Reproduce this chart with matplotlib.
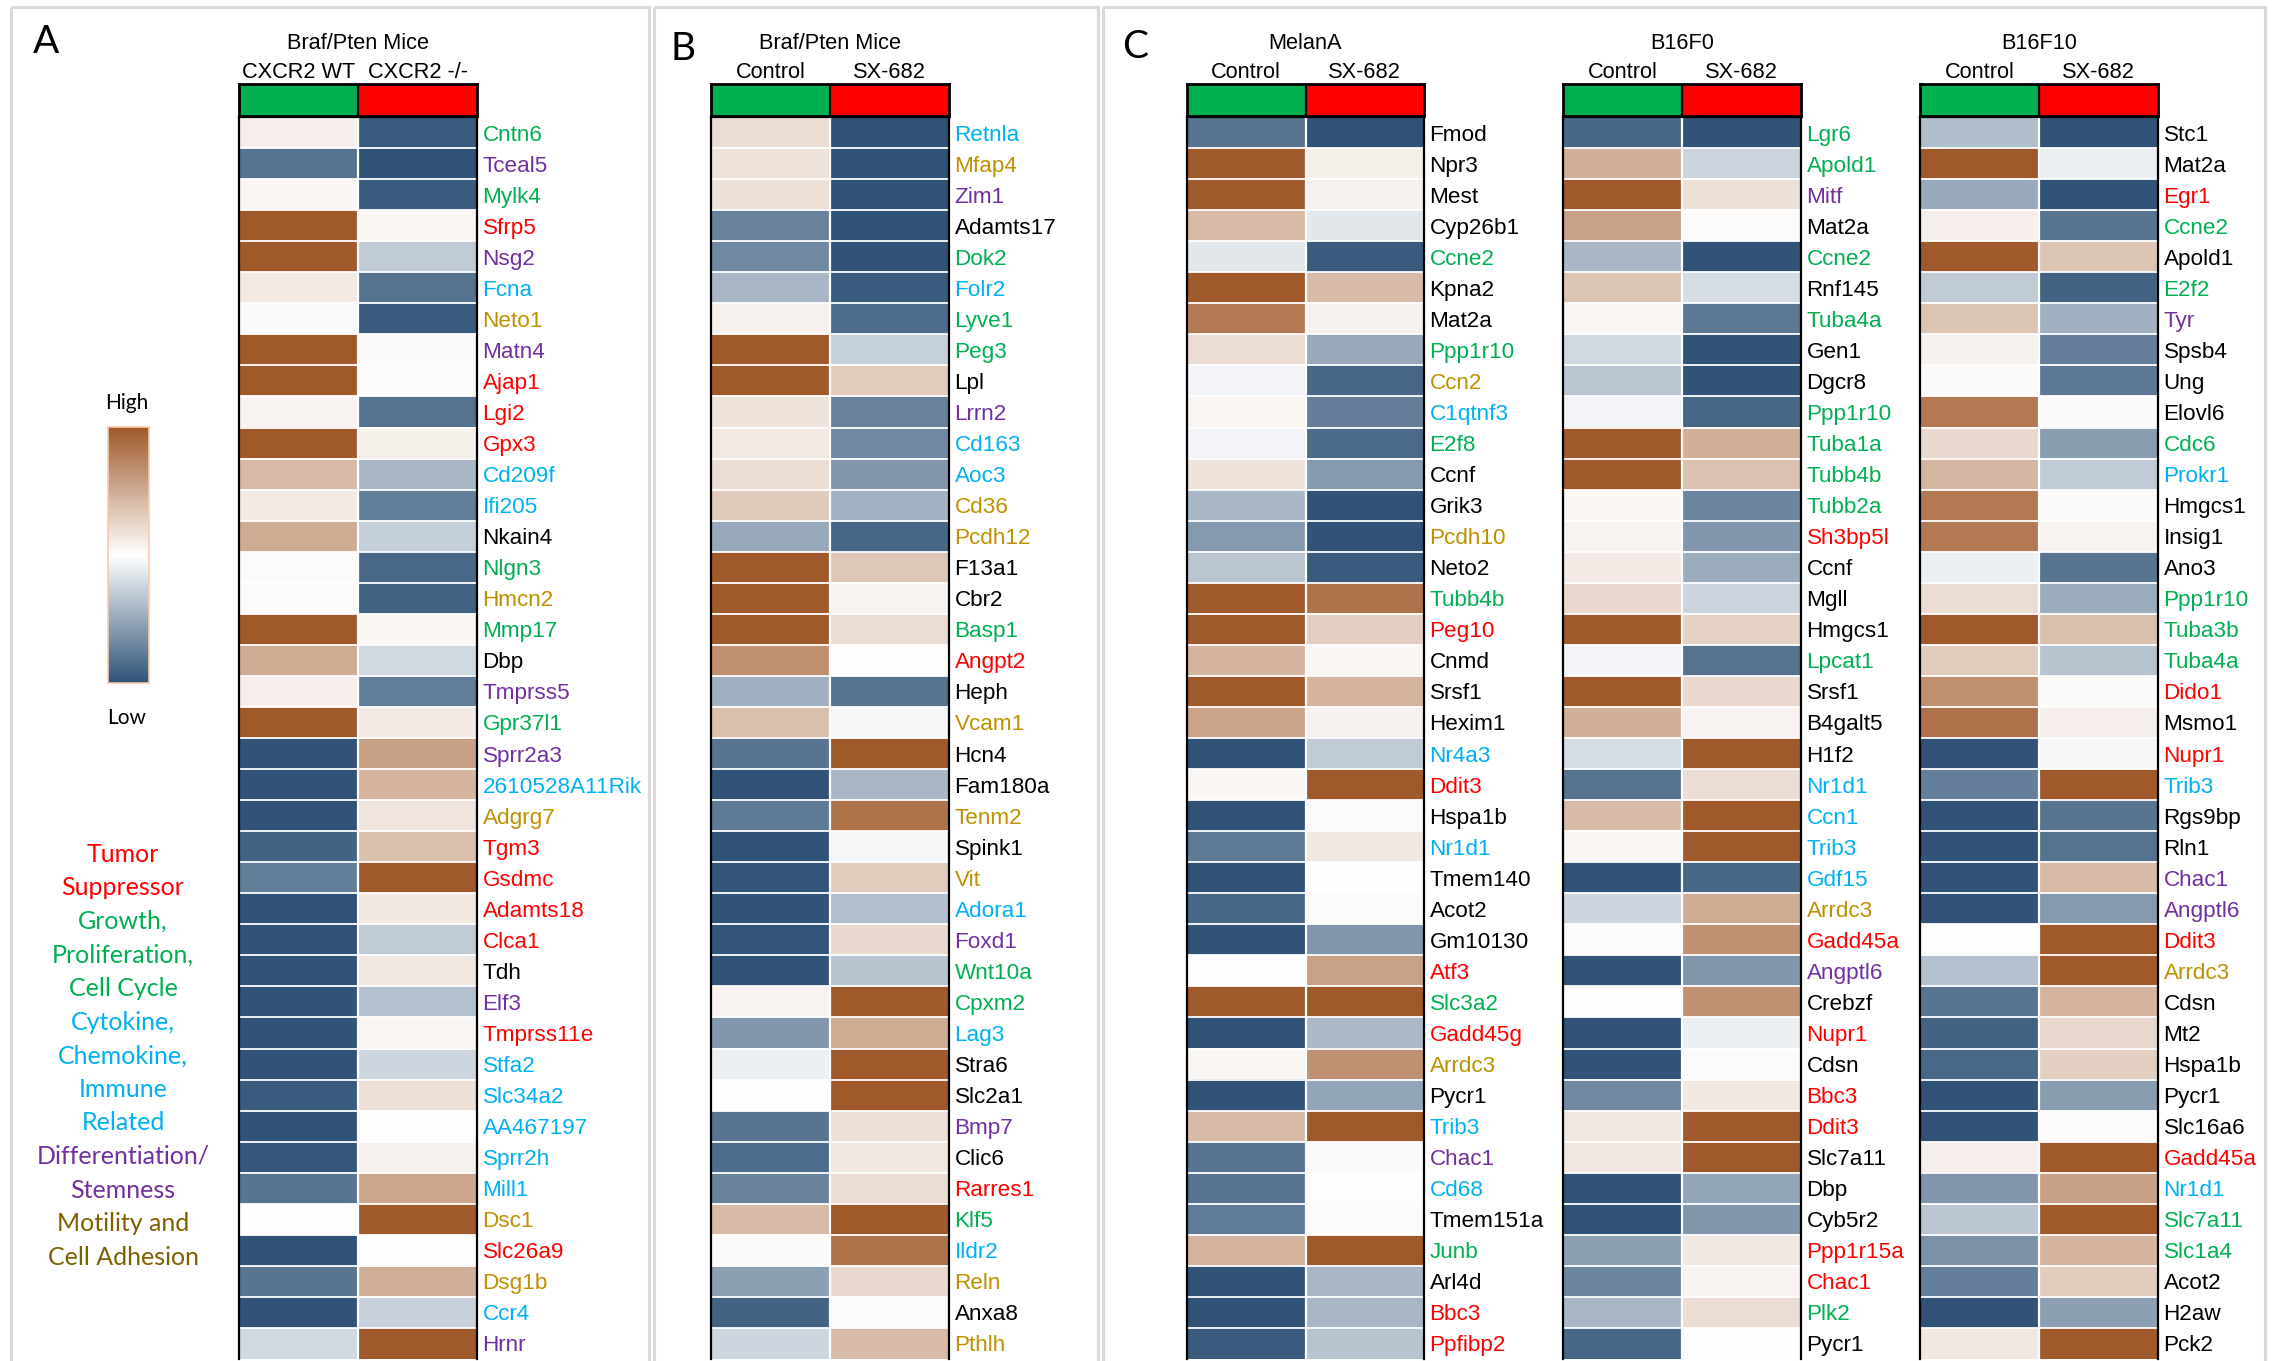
import numpy as np
import matplotlib
matplotlib.use('Agg')
import matplotlib.pyplot as plt
from matplotlib.colors import LinearSegmentedColormap, ListedColormap
from matplotlib.patches import Rectangle

plt.rcParams['font.family'] = ['Liberation Sans', 'DejaVu Sans']

# ---- gene lists, category codes and scaled expression (-1 low .. 1 high) ----
a_genes = ["Cntn6", "Tceal5", "Mylk4", "Sfrp5", "Nsg2", "Fcna", "Neto1", "Matn4", "Ajap1", "Lgi2",
           "Gpx3", "Cd209f", "Ifi205", "Nkain4", "Nlgn3", "Hmcn2", "Mmp17", "Dbp", "Tmprss5", "Gpr37l1",
           "Sprr2a3", "2610528A11Rik", "Adgrg7", "Tgm3", "Gsdmc", "Adamts18", "Clca1", "Tdh", "Elf3", "Tmprss11e",
           "Stfa2", "Slc34a2", "AA467197", "Sprr2h", "Mill1", "Dsc1", "Slc26a9", "Dsg1b", "Ccr4", "Hrnr"]
a_cats = "g p g r p c y p r r r c c k g y g k p g p c y r r r r k p r c c c c c y r y c p".split()
a_wt = [0.1, -0.82, 0.05, 1, 1, 0.13, -0.03, 1, 1, 0.07,
        1, 0.42, 0.12, 0.5, 0.02, 0.02, 1, 0.5, 0.1, 1,
        -1, -1, -1, -0.9, -0.75, -1, -1, -1, -1, -1,
        -1, -0.95, -1, -0.97, -0.8, 0, -1, -0.8, -1, -0.22]
a_ko = [-0.95, -1, -0.95, 0.05, -0.3, -0.82, -0.95, 0.03, 0.02, -0.82,
        0.09, -0.42, -0.75, -0.28, -0.87, -0.9, 0.05, -0.22, -0.75, 0.12,
        0.57, 0.45, 0.15, 0.38, 1, 0.14, -0.3, 0.14, -0.36, 0.06,
        -0.24, 0.18, 0.01, 0.08, 0.52, 1, 0, 0.47, -0.26, 1]

b_genes = ["Retnla", "Mfap4", "Zim1", "Adamts17", "Dok2", "Folr2", "Lyve1", "Peg3", "Lpl", "Lrrn2",
           "Cd163", "Aoc3", "Cd36", "Pcdh12", "F13a1", "Cbr2", "Basp1", "Angpt2", "Heph", "Vcam1",
           "Hcn4", "Fam180a", "Tenm2", "Spink1", "Vit", "Adora1", "Foxd1", "Wnt10a", "Cpxm2", "Lag3",
           "Stra6", "Slc2a1", "Bmp7", "Clic6", "Rarres1", "Klf5", "Ildr2", "Reln", "Anxa8", "Pthlh"]
b_cats = "c y p k g c g g k p c c y y k k g r k y k k y k y c p g g c k k p k r g c y k y".split()
b_ctrl = [0.2, 0.17, 0.18, -0.72, -0.68, -0.42, 0.08, 1, 1, 0.16,
          0.13, 0.2, 0.32, -0.5, 1, 1, 1, 0.67, -0.45, 0.38,
          -0.8, -1, -0.77, -1, -0.98, -1, -0.98, -1, 0.07, -0.6,
          -0.08, 0, -0.8, -0.85, -0.72, 0.4, 0.03, -0.55, -0.9, -0.24]
b_sx = [-1, -1, -1, -1, -1, -0.95, -0.85, -0.27, 0.3, -0.72,
        -0.68, -0.6, -0.44, -0.88, 0.33, 0.07, 0.2, 0.01, -0.8, -0.05,
        1, -0.42, 0.84, -0.04, 0.3, -0.37, 0.22, -0.34, 1, 0.5,
        1, 1, 0.18, 0.14, 0.2, 1, 0.84, 0.22, 0.02, 0.4]

melana_genes = ["Fmod", "Npr3", "Mest", "Cyp26b1", "Ccne2", "Kpna2", "Mat2a", "Ppp1r10", "Ccn2", "C1qtnf3",
                "E2f8", "Ccnf", "Grik3", "Pcdh10", "Neto2", "Tubb4b", "Peg10", "Cnmd", "Srsf1", "Hexim1",
                "Nr4a3", "Ddit3", "Hspa1b", "Nr1d1", "Tmem140", "Acot2", "Gm10130", "Atf3", "Slc3a2", "Gadd45g",
                "Arrdc3", "Pycr1", "Trib3", "Chac1", "Cd68", "Tmem151a", "Junb", "Arl4d", "Bbc3", "Ppfibp2"]
melana_cats = "k k k k g k k g y c g k k y k g r k k k c r k c k k k r g r y k c p c k g k r r".split()
melana_ctrl = [-0.8, 1, 1, 0.42, -0.14, 1, 0.8, 0.2, -0.06, 0.05,
               -0.06, 0.16, -0.42, -0.58, -0.33, 1, 1, 0.45, 1, 0.55,
               -1, 0.04, -1, -0.77, -1, -0.88, -1, 0, 1, -1,
               0.05, -1, 0.4, -0.8, -0.8, -0.76, 0.45, -1, -1, -0.95]
melana_sx = [-1, 0.09, 0.08, -0.14, -0.95, 0.4, 0.08, -0.5, -0.88, -0.74,
             -0.86, -0.58, -1, -1, -0.95, 0.84, 0.28, 0.05, 0.45, 0.08,
             -0.3, 1, -0.02, 0.14, 0, 0.02, -0.6, 0.56, 1, -0.4,
             0.65, -0.52, 1, 0.03, 0.01, 0.02, 1, -0.42, -0.42, -0.34]

f0_genes = ["Lgr6", "Apold1", "Mitf", "Mat2a", "Ccne2", "Rnf145", "Tuba4a", "Gen1", "Dgcr8", "Ppp1r10",
            "Tuba1a", "Tubb4b", "Tubb2a", "Sh3bp5l", "Ccnf", "Mgll", "Hmgcs1", "Lpcat1", "Srsf1", "B4galt5",
            "H1f2", "Nr1d1", "Ccn1", "Trib3", "Gdf15", "Arrdc3", "Gadd45a", "Angptl6", "Crebzf", "Nupr1",
            "Cdsn", "Bbc3", "Ddit3", "Slc7a11", "Dbp", "Cyb5r2", "Ppp1r15a", "Chac1", "Plk2", "Pycr1"]
f0_cats = "g g p k g k g k k g g g g r k k k g k k k c c c c y r p k r k r r k k k r r g k".split()
f0_ctrl = [-0.88, 0.48, 1, 0.56, -0.42, 0.35, 0.05, -0.22, -0.33, -0.06,
           1, 1, 0.04, 0.07, 0.12, 0.22, 1, -0.06, 1, 0.47,
           -0.2, -0.82, 0.4, 0.05, -1, -0.24, -0.01, -1, 0.01, -1,
           -1, -0.68, 0.14, 0.14, -1, -1, -0.55, -0.7, -0.42, -0.88]
f0_sx = [-1, -0.25, 0.18, 0.02, -1, -0.2, -0.78, -1, -1, -0.88,
         0.47, 0.37, -0.7, -0.6, -0.48, -0.25, 0.27, -0.82, 0.22, 0.07,
         1, 0.2, 1, 1, -0.88, 0.5, 0.65, -0.6, 0.65, -0.09,
         -0.02, 0.14, 1, 1, -0.52, -0.6, 0.14, 0.07, 0.2, 0]

f10_genes = ["Stc1", "Mat2a", "Egr1", "Ccne2", "Apold1", "E2f2", "Tyr", "Spsb4", "Ung", "Elovl6",
             "Cdc6", "Prokr1", "Hmgcs1", "Insig1", "Ano3", "Ppp1r10", "Tuba3b", "Tuba4a", "Dido1", "Msmo1",
             "Nupr1", "Trib3", "Rgs9bp", "Rln1", "Chac1", "Angptl6", "Ddit3", "Arrdc3", "Cdsn", "Mt2",
             "Hspa1b", "Pycr1", "Slc16a6", "Gadd45a", "Nr1d1", "Slc7a11", "Slc1a4", "Acot2", "H2aw", "Pck2"]
f10_cats = "k k r g k g p k k k g c k k k g g g r k r c k k p p r y k k k k k r c g g k k k".split()
f10_ctrl = [-0.38, 1, -0.5, 0.1, 1, -0.3, 0.35, 0.08, 0.03, 0.8,
            0.22, 0.43, 0.8, 0.8, -0.09, 0.2, 1, 0.3, 0.67, 0.85,
            -1, -0.74, -1, -1, -1, -1, 0.01, -0.36, -0.8, -0.9,
            -0.87, -1, -1, 0.1, -0.6, -0.33, -0.64, -0.74, -1, 0.14]
f10_sx = [-1, -0.09, -1, -0.8, 0.35, -0.9, -0.45, -0.74, -0.78, 0.03,
          -0.57, -0.3, 0.03, 0.07, -0.8, -0.48, 0.38, -0.34, 0.03, 0.1,
          -0.05, 1, -0.8, -0.82, 0.42, -0.58, 1, 1, 0.45, 0.24,
          0.28, -0.57, 0.02, 1, 0.57, 1, 0.45, 0.3, -0.55, 1]

legend_lines = [("Tumor", "r"), ("Suppressor", "r"), ("Growth,", "g"), ("Proliferation,", "g"),
                ("Cell Cycle", "g"), ("Cytokine,", "c"), ("Chemokine,", "c"), ("Immune", "c"),
                ("Related", "c"), ("Differentiation/", "p"), ("Stemness", "p"),
                ("Motility and", "m"), ("Cell Adhesion", "m")]

CAT_COLORS = {"r": "#FF0000", "g": "#00B050", "c": "#00B0F0", "p": "#7030A0",
              "y": "#BF9000", "m": "#7F6000", "k": "#000000"}

cmap = LinearSegmentedColormap.from_list("expr", ["#305377", "#FFFFFF", "#A0592A"])

W, H = 2278, 1361
fig = plt.figure(figsize=(W / 100, H / 100), dpi=100)
fig.patch.set_facecolor("white")

ROW_TOP, ROW_H, N_ROWS = 117, 31.05, 40


def px_axes(x0, y0, x1, y1):
    return fig.add_axes([x0 / W, 1 - y1 / H, (x1 - x0) / W, (y1 - y0) / H])


def ftext(x, y, s, **kw):
    fig.text(x / W, 1 - y / H, s, **kw)


# panel frames
bg = fig.add_axes([0, 0, 1, 1])
bg.set_xlim(0, W)
bg.set_ylim(H, 0)
bg.axis("off")
for x0, x1 in [(11, 649), (654, 1098), (1103, 2265)]:
    bg.add_patch(Rectangle((x0, 7), x1 - x0, 1400, fill=False, ec="#D9D9D9", lw=2.2))


def heatmap(left, right, title, cols, ctrl, trt, genes, cats):
    top, bottom = ROW_TOP, ROW_TOP + N_ROWS * ROW_H
    ax = px_axes(left, top, right, bottom)
    data = np.column_stack([ctrl, trt])
    ax.imshow(data, cmap=cmap, vmin=-1, vmax=1, aspect="auto",
              interpolation="nearest", extent=(0, 2, N_ROWS, 0))
    ax.hlines(np.arange(1, N_ROWS), 0, 2, color="white", lw=1.3)
    ax.vlines(1, 0, N_ROWS, color="white", lw=1.6)
    ax.set_xlim(0, 2)
    ax.set_ylim(N_ROWS, 0)
    ax.set_xticks([])
    ax.set_yticks(np.arange(N_ROWS) + 0.5)
    ax.set_yticklabels(genes, fontsize=16.2)
    ax.yaxis.tick_right()
    ax.tick_params(axis="y", length=0, pad=4)
    for lab, c in zip(ax.get_yticklabels(), cats):
        lab.set_color(CAT_COLORS[c])
    for side, sp in ax.spines.items():
        sp.set_linewidth(1.6)
        sp.set_visible(side != "bottom")

    # group header bar
    hx = px_axes(left, 84, right, 116)
    hx.imshow([[0, 1]], cmap=ListedColormap(["#00B050", "#FF0000"]), aspect="auto",
              extent=(0, 2, 1, 0))
    hx.vlines(1, 0, 1, color="black", lw=1.6)
    hx.set_xticks([])
    hx.set_yticks([])
    for sp in hx.spines.values():
        sp.set_linewidth(2)

    cw = (right - left) / 2
    ftext((left + right) / 2, 49, title, ha="center", va="baseline", fontsize=15.7)
    for i, c in enumerate(cols):
        ftext(left + cw * (i + 0.5), 78, c, ha="center", va="baseline", fontsize=15.7)


heatmap(239, 477, "Braf/Pten Mice", ["CXCR2 WT", "CXCR2 -/-"], a_wt, a_ko, a_genes, a_cats)
heatmap(711, 949, "Braf/Pten Mice", ["Control", "SX-682"], b_ctrl, b_sx, b_genes, b_cats)
heatmap(1187, 1424, "MelanA", ["Control", "SX-682"], melana_ctrl, melana_sx, melana_genes, melana_cats)
heatmap(1563, 1801, "B16F0", ["Control", "SX-682"], f0_ctrl, f0_sx, f0_genes, f0_cats)
heatmap(1920, 2158, "B16F10", ["Control", "SX-682"], f10_ctrl, f10_sx, f10_genes, f10_cats)

# panel letters
for letter, x, y in [("A", 46, 42), ("B", 683, 49), ("C", 1135, 47)]:
    ftext(x, y, letter, ha="center", va="center", fontsize=28, family=["Lato", "DejaVu Sans"])

# colour scale
cb = px_axes(108, 427, 149, 683)
cb.imshow(np.linspace(1, -1, 256)[:, None], cmap=cmap, vmin=-1, vmax=1, aspect="auto")
cb.set_xticks([])
cb.set_yticks([])
for sp in cb.spines.values():
    sp.set_edgecolor("#F8CBAD")
    sp.set_linewidth(1.2)
ftext(127, 403, "High", ha="center", va="center", fontsize=15, family=["Lato", "DejaVu Sans"])
ftext(127, 718, "Low", ha="center", va="center", fontsize=15, family=["Lato", "DejaVu Sans"])

# category key
for i, (line, c) in enumerate(legend_lines):
    ftext(123, 854 + i * 33.6, line, ha="center", va="center", fontsize=18,
          color=CAT_COLORS[c], family=["Lato", "DejaVu Sans"])

fig.savefig("out.png", dpi=100)
